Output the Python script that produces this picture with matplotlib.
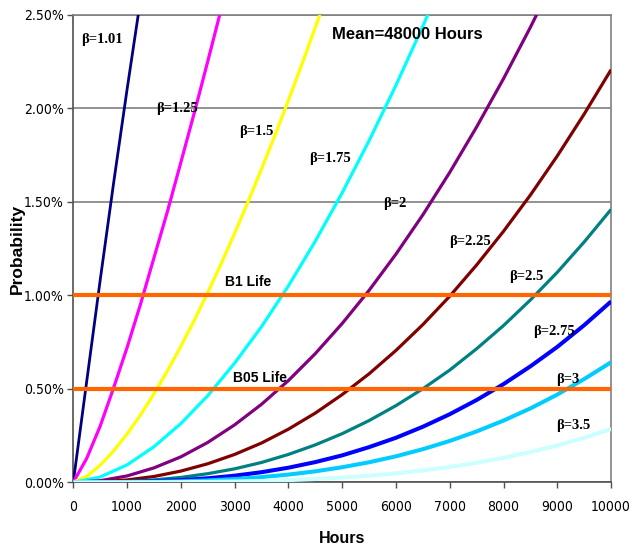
import matplotlib
matplotlib.use('Agg')
import matplotlib.pyplot as plt
from matplotlib.ticker import PercentFormatter, MultipleLocator

# Hours axis for the shallow curves (values every 500 h).
hours = [0, 500, 1000, 1500, 2000, 2500, 3000, 3500, 4000, 4500, 5000,
         5500, 6000, 6500, 7000, 7500, 8000, 8500, 9000, 9500, 10000]
# Finer hours axis for the three steep curves (every 250 h).
hours_fine = [0, 250, 500, 750, 1000, 1250, 1500, 1750, 2000, 2250, 2500,
              2750, 3000, 3250, 3500, 3750, 4000, 4250, 4500, 4750, 5000]

# Failure probability in percent for each shape factor.
p_101 = [0, 0.54, 1.08, 1.60, 2.10, 2.58, 3.10]
p_125 = [0, 0.128, 0.30, 0.505, 0.72, 0.952, 1.20, 1.447, 1.71, 1.975, 2.25, 2.53, 2.82]
p_150 = [0, 0.032, 0.091, 0.168, 0.258, 0.360, 0.473, 0.595, 0.727, 0.866, 1.014,
         1.169, 1.331, 1.500, 1.675, 1.855, 2.042, 2.234, 2.432, 2.634, 2.84]
p_175 = [0, 0.028, 0.093, 0.190, 0.314, 0.463, 0.637, 0.832, 1.050, 1.289,
         1.548, 1.826, 2.123, 2.439, 2.77]
p_200 = [0, 0.0085, 0.034, 0.077, 0.136, 0.213, 0.307, 0.417, 0.544, 0.688,
         0.849, 1.026, 1.220, 1.430, 1.657, 1.900, 2.158, 2.433, 2.724]
p_225 = [0, 0.0026, 0.0126, 0.031, 0.060, 0.099, 0.149, 0.210, 0.284, 0.370,
         0.469, 0.580, 0.705, 0.843, 0.995, 1.162, 1.342, 1.536, 1.745, 1.969, 2.206]
p_250 = [0, 0.0008, 0.0046, 0.0128, 0.026, 0.046, 0.072, 0.106, 0.149, 0.200,
         0.260, 0.330, 0.410, 0.500, 0.600, 0.714, 0.838, 0.975, 1.123, 1.285, 1.459]
p_275 = [0, 0.0003, 0.0017, 0.0053, 0.0116, 0.0215, 0.0354, 0.054, 0.078, 0.108,
         0.144, 0.188, 0.238, 0.297, 0.364, 0.440, 0.525, 0.620, 0.724, 0.840, 0.967]
p_300 = [0, 0.0001, 0.0006, 0.0022, 0.0052, 0.0101, 0.0174, 0.0276, 0.0412, 0.0587,
         0.0805, 0.107, 0.139, 0.177, 0.221, 0.272, 0.330, 0.395, 0.469, 0.552, 0.642]
p_350 = [0, 0.0, 0.0001, 0.0004, 0.0010, 0.0022, 0.0042, 0.0072, 0.0116, 0.0175,
         0.0252, 0.0352, 0.0478, 0.0632, 0.0819, 0.104, 0.131, 0.162, 0.197, 0.238, 0.285]

beta_labels = ['β=1.01', 'β=1.25', 'β=1.5', 'β=1.75', 'β=2', 'β=2.25',
               'β=2.5', 'β=2.75', 'β=3', 'β=3.5']
series = [p_101, p_125, p_150, p_175, p_200, p_225, p_250, p_275, p_300, p_350]
x_axes = [hours_fine, hours_fine, hours_fine] + [hours] * 7
colors = ['#000080', '#FF00FF', '#FFFF00', '#00FFFF', '#800080', '#800000',
          '#008080', '#0000FF', '#00CCFF', '#CCFFFF']
widths = [2.0, 2.3, 2.3, 2.3, 2.3, 2.3, 2.3, 2.9, 2.9, 2.9]
# label anchor (hours, percent)
label_pos = [(530, 2.365), (1930, 2.0), (3410, 1.875), (4780, 1.733), (5985, 1.49),
             (7380, 1.29), (8420, 1.10), (8930, 0.805), (9200, 0.547), (9290, 0.303)]

# B-life reference lines
b_levels = [1.0, 0.5]
b_labels = ['B1 Life', 'B05 Life']
b_label_pos = [(3245, 1.07), (3475, 0.56)]

sans = ['Liberation Sans', 'DejaVu Sans']

fig = plt.figure(figsize=(6.3, 5.5), dpi=100)
ax = fig.add_axes([0.1163, 0.1231, 0.8537, 0.8502])

for xs, vals, c, lw in zip(x_axes, series, colors, widths):
    ax.plot(xs[:len(vals)], vals, color=c, lw=lw, solid_capstyle='butt',
            solid_joinstyle='round', zorder=3)

for lvl in b_levels:
    ax.plot([hours[0], hours[-1]], [lvl, lvl], color='#FF6600', lw=3.0, zorder=4)

for txt, (x, y) in zip(beta_labels, label_pos):
    ax.text(x, y, txt, ha='center', va='center', fontsize=10.5, fontweight='bold',
            family=['Liberation Serif', 'DejaVu Serif'], zorder=5)

for txt, (x, y) in zip(b_labels, b_label_pos):
    ax.text(x, y, txt, ha='center', va='center', fontsize=10, fontweight='bold',
            family=sans, zorder=5)

ax.text(6220, 2.392, 'Mean=48000 Hours', ha='center', va='center', fontsize=12,
        fontweight='bold', family=sans, zorder=5)

ax.set_xlim(0, 10000)
ax.set_ylim(0, 2.5)
ax.xaxis.set_major_locator(MultipleLocator(1000))
ax.yaxis.set_major_locator(MultipleLocator(0.5))
ax.yaxis.set_major_formatter(PercentFormatter(100, decimals=2))
ax.grid(axis='y', color='#808080', lw=1.2, zorder=1)
ax.set_axisbelow(True)

for side in ['left', 'bottom', 'right', 'top']:
    ax.spines[side].set_color('#808080')
    ax.spines[side].set_linewidth(1.2)
ax.spines['left'].set_color('#505050')
ax.spines['bottom'].set_color('#505050')

ax.tick_params(axis='both', direction='out', length=4, width=1, color='#505050',
               labelsize=10, pad=3)
for lab in ax.get_xticklabels() + ax.get_yticklabels():
    lab.set_family('DejaVu Sans')
    lab.set_stretch('condensed')
ax.tick_params(axis='x', pad=9)

ax.set_xlabel('Hours', fontsize=11.5, fontweight='bold', family=sans)
ax.set_ylabel('Probability', fontsize=12.5, fontweight='bold', family=sans)
ax.xaxis.set_label_coords(0.5, -0.104)
ax.yaxis.set_label_coords(-0.090, 0.5)

fig.savefig('out.png', dpi=100)
